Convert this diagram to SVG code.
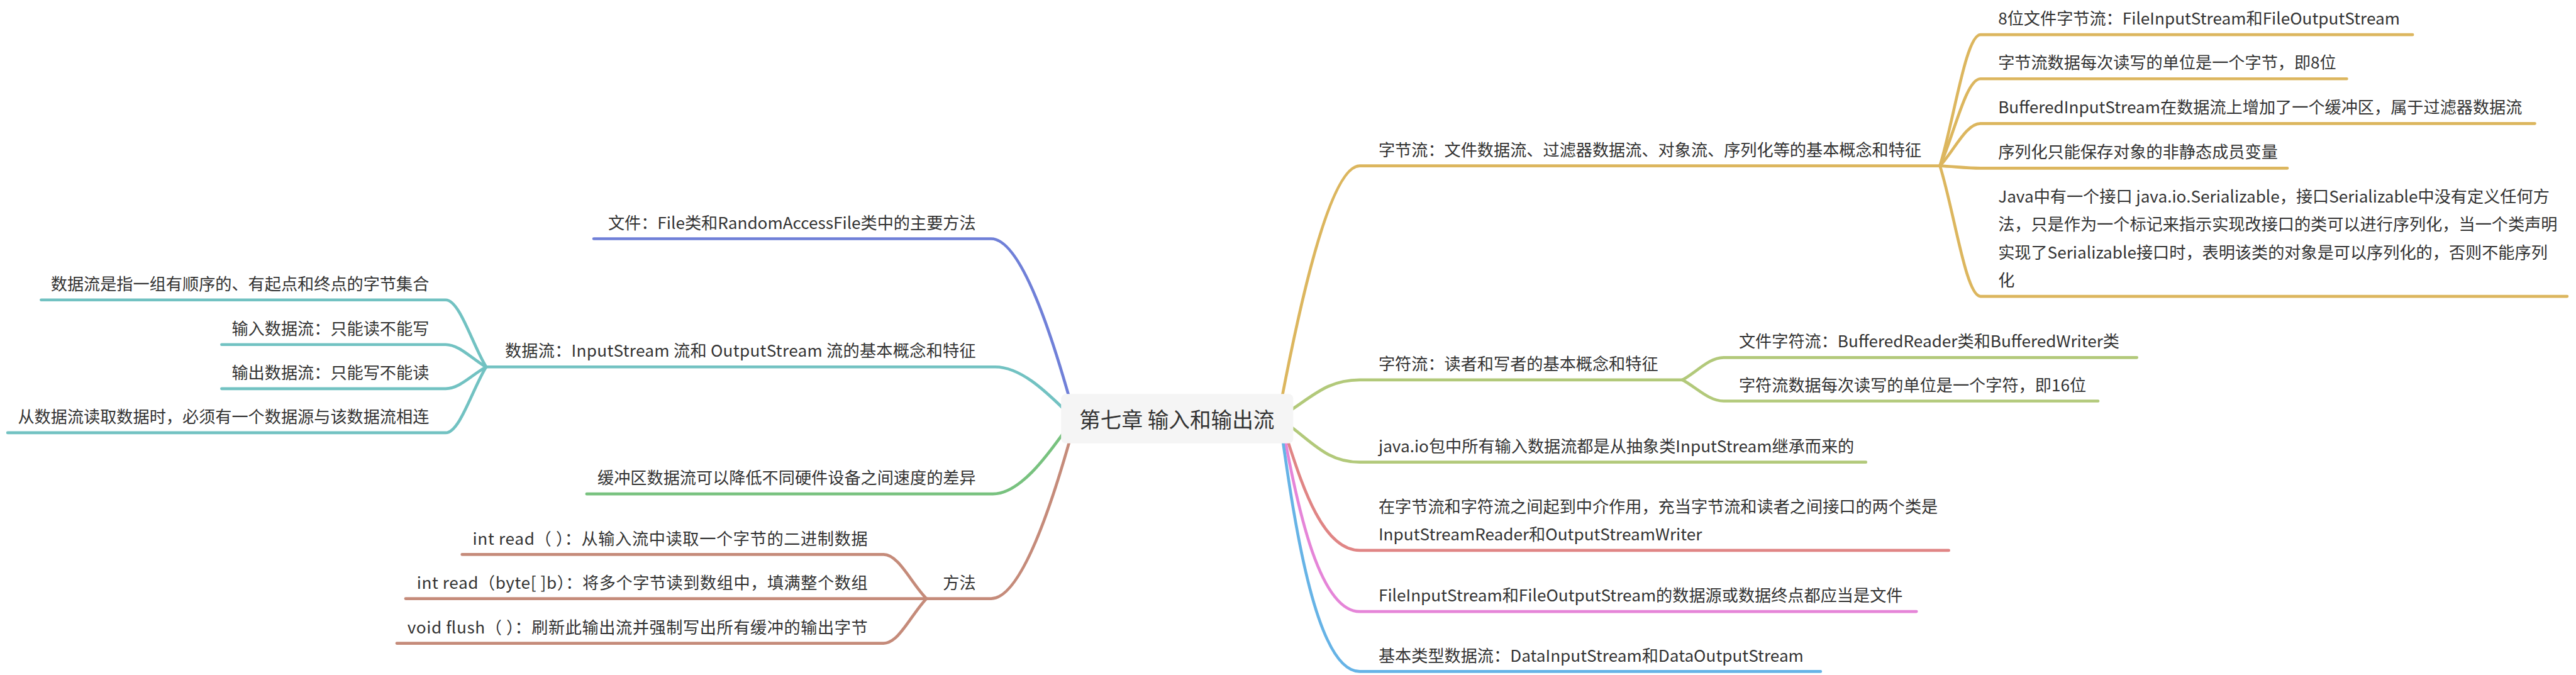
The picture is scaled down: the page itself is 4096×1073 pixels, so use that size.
<svg xmlns="http://www.w3.org/2000/svg" width="4096" height="1073" viewBox="0 0 4096 1073">
<style>
.t{font-family:"Noto Sans CJK SC","Noto Sans",sans-serif;font-size:28px;fill:#333333}
.c{font-family:"Noto Sans CJK SC","Noto Sans",sans-serif;font-size:36px;fill:#333333}
.e{text-anchor:end}
path{fill:none;stroke-width:5;stroke-linecap:round;stroke-linejoin:round}
.b1{stroke:#7080d8}.b2{stroke:#72c2c2}.b3{stroke:#78c27f}.b4{stroke:#c58b7a}
.b5{stroke:#dcb65e}.b6{stroke:#b2c97a}.b7{stroke:#e08585}.b8{stroke:#e585d8}.b9{stroke:#66b3e6}
</style>
<rect width="4096" height="1073" fill="#ffffff"/>
<g transform="scale(0.93473)">
<g id="connectors">
<path class="b1" d="M1820,680 C1791,578 1738,406 1686,406 L1010,406"/>
<path class="b2" d="M1810,696 C1781,668 1737,624 1693,624 L827,624"/>
<path class="b2" d="M827,624 C803,585 782,510 758,510 L70,510"/>
<path class="b2" d="M827,624 C803,611 782,586 758,586 L377,586"/>
<path class="b2" d="M827,624 C803,637 782,661 758,661 L377,661"/>
<path class="b2" d="M827,624 C803,663 782,736 758,736 L13,736"/>
<path class="b3" d="M1810,735 C1782,774 1735,840 1689,840 L998,840"/>
<path class="b4" d="M1820,748 C1791,850 1738,1018 1686,1018 L1576,1018"/>
<path class="b4" d="M1576,1018 C1550,992 1529,943 1503,943 L786,943"/>
<path class="b4" d="M1576,1018 L690,1018"/>
<path class="b4" d="M1576,1018 C1550,1045 1529,1094 1503,1094 L675,1094"/>
<path class="b5" d="M2180,680 C2208,534 2261,282 2313,282 L3300,282"/>
<path class="b5" d="M3300,282 C3324,204 3344,59 3369,59 L4104,59"/>
<path class="b5" d="M3300,282 C3324,230 3344,134 3369,134 L3992,134"/>
<path class="b5" d="M3300,282 C3324,257 3344,210 3369,210 L4312,210"/>
<path class="b5" d="M3300,282 C3324,283 3344,286 3369,286 L3891,286"/>
<path class="b5" d="M3300,282 C3324,358 3344,504 3369,504 L4367,504"/>
<path class="b6" d="M2195,698 C2235,672 2260,646 2313,646 L2862,646"/>
<path class="b6" d="M2862,646 C2886,633 2907,608 2932,608 L3635,608"/>
<path class="b6" d="M2862,646 C2886,659 2907,682 2932,682 L3569,682"/>
<path class="b6" d="M2195,725 C2235,755 2260,786 2313,786 L3174,786"/>
<path class="b7" d="M2190,748 C2215,825 2250,936 2313,936 L3315,936"/>
<path class="b8" d="M2186,748 C2208,865 2245,1040 2313,1040 L3260,1040"/>
<path class="b9" d="M2182,748 C2203,895 2240,1142 2313,1142 L3097,1142"/>
</g>
<g id="center">
<rect x="1805" y="670" width="395" height="84" rx="8" fill="#f5f5f5"/>
<text class="c" x="2002" y="727" text-anchor="middle">第七章 输入和输出流</text>
</g>
<g id="n-file"><text class="t e" x="1660" y="389">文件：File类和RandomAccessFile类中的主要方法</text></g>
<g id="n-datastream"><text class="t" x="859" y="607" textLength="801" lengthAdjust="spacing">数据流：InputStream 流和 OutputStream 流的基本概念和特征</text></g>
<g id="n-ds1"><text class="t e" x="730" y="493">数据流是指一组有顺序的、有起点和终点的字节集合</text></g>
<g id="n-ds2"><text class="t e" x="730" y="569">输入数据流：只能读不能写</text></g>
<g id="n-ds3"><text class="t e" x="730" y="644">输出数据流：只能写不能读</text></g>
<g id="n-ds4"><text class="t e" x="730" y="719">从数据流读取数据时，必须有一个数据源与该数据流相连</text></g>
<g id="n-buffer"><text class="t e" x="1660" y="823">缓冲区数据流可以降低不同硬件设备之间速度的差异</text></g>
<g id="n-method"><text class="t e" x="1660" y="1001">方法</text></g>
<g id="n-m1"><text class="t" x="804" y="926" textLength="672" lengthAdjust="spacing">int read（ ）：从输入流中读取一个字节的二进制数据</text></g>
<g id="n-m2"><text class="t" x="709" y="1001" textLength="767" lengthAdjust="spacing">int read（byte[ ]b）：将多个字节读到数组中，填满整个数组</text></g>
<g id="n-m3"><text class="t" x="693" y="1077" textLength="783" lengthAdjust="spacing">void flush（ ）：刷新此输出流并强制写出所有缓冲的输出字节</text></g>
<g id="n-bytestream"><text class="t" x="2345" y="265">字节流：文件数据流、过滤器数据流、对象流、序列化等的基本概念和特征</text></g>
<g id="n-bs1"><text class="t" x="3399" y="42">8位文件字节流：FileInputStream和FileOutputStream</text></g>
<g id="n-bs2"><text class="t" x="3399" y="117">字节流数据每次读写的单位是一个字节，即8位</text></g>
<g id="n-bs3"><text class="t" x="3399" y="193">BufferedInputStream在数据流上增加了一个缓冲区，属于过滤器数据流</text></g>
<g id="n-bs4"><text class="t" x="3399" y="269">序列化只能保存对象的非静态成员变量</text></g>
<g id="n-bs5"><text class="t" x="3399" y="345">Java中有一个接口 java.io.Serializable，接口Serializable中没有定义任何方<tspan x="3399" y="392">法，只是作为一个标记来指示实现改接口的类可以进行序列化，当一个类声明</tspan><tspan x="3399" y="440">实现了Serializable接口时，表明该类的对象是可以序列化的，否则不能序列</tspan><tspan x="3399" y="487">化</tspan></text></g>
<g id="n-charstream"><text class="t" x="2345" y="629">字符流：读者和写者的基本概念和特征</text></g>
<g id="n-cs1"><text class="t" x="2958" y="591">文件字符流：BufferedReader类和BufferedWriter类</text></g>
<g id="n-cs2"><text class="t" x="2958" y="665">字符流数据每次读写的单位是一个字符，即16位</text></g>
<g id="n-javaio"><text class="t" x="2345" y="769">java.io包中所有输入数据流都是从抽象类InputStream继承而来的</text></g>
<g id="n-bridge"><text class="t" x="2345" y="872">在字节流和字符流之间起到中介作用，充当字节流和读者之间接口的两个类是<tspan x="2345" y="919">InputStreamReader和OutputStreamWriter</tspan></text></g>
<g id="n-fileio"><text class="t" x="2345" y="1023">FileInputStream和FileOutputStream的数据源或数据终点都应当是文件</text></g>
<g id="n-basic"><text class="t" x="2345" y="1125">基本类型数据流：DataInputStream和DataOutputStream</text></g>
</g>
</svg>
